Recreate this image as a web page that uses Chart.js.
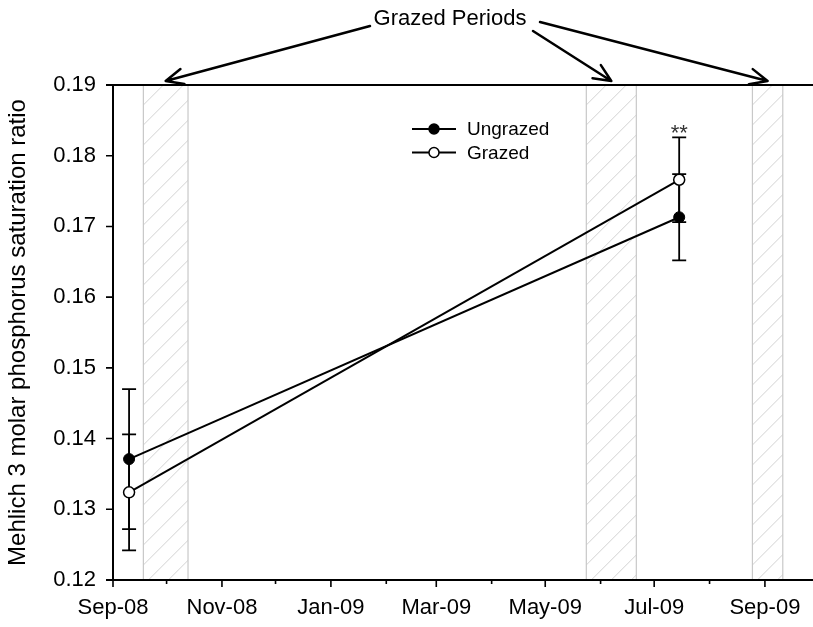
<!DOCTYPE html>
<html>
<head>
<meta charset="utf-8">
<script src="https://cdn.jsdelivr.net/npm/chart.js@4.4.0/dist/chart.umd.min.js"></script>
<style>
  html, body { margin: 0; padding: 0; background: #fff; }
</style>
</head>
<body>
<canvas id="chart" width="813" height="627"></canvas>
<script>
const FONT = '"Liberation Sans", Arial, sans-serif';

// sampling dates and values
const startDate = '2008-09-01';
const endDate = '2009-09-24';
const sampleDates = ['2008-09-10', '2009-07-15'];
const ungrazed = [0.1371, 0.1713];
const ungrazedErr = [0.0099, 0.0061];
const grazed = [0.1324, 0.1766];
const grazedErr = [0.0082, 0.0060];
const significance = ['', '**'];

// grazing periods (hatched bands)
const grazedStart = ['2008-09-18', '2009-05-24', '2009-08-25'];
const grazedEnd = ['2008-10-13', '2009-06-21', '2009-09-11'];

// axis ticks
const majorTickDates = ['2008-09-01', '2008-11-01', '2009-01-01', '2009-03-01', '2009-05-01', '2009-07-01', '2009-09-01'];
const majorTickLabels = ['Sep-08', 'Nov-08', 'Jan-09', 'Mar-09', 'May-09', 'Jul-09', 'Sep-09'];
const minorTickDates = ['2008-10-01', '2008-12-01', '2009-02-01', '2009-04-01', '2009-06-01', '2009-08-01'];
const yTicks = [0.12, 0.13, 0.14, 0.15, 0.16, 0.17, 0.18, 0.19];

const day = d => (Date.parse(d) - Date.parse(startDate)) / 864e5;
const toPoints = vals => vals.map((v, i) => ({ x: day(sampleDates[i]), y: v }));

const extras = {
  id: 'extras',
  beforeDatasetsDraw(chart) {
    const { ctx, chartArea: a, scales: { x, y } } = chart;
    // hatched grazing bands
    grazedStart.forEach((s, i) => {
      const x0 = x.getPixelForValue(day(s));
      const x1 = x.getPixelForValue(day(grazedEnd[i]));
      ctx.save();
      ctx.beginPath();
      ctx.rect(x0, a.top, x1 - x0, a.bottom - a.top);
      ctx.clip();
      ctx.strokeStyle = '#d2d2d2';
      ctx.lineWidth = 1;
      ctx.beginPath();
      for (let k = a.top; k < a.bottom + (x1 - x0) + 20; k += 20) {
        ctx.moveTo(x0, k);
        ctx.lineTo(x0 + 600, k - 600);
      }
      ctx.stroke();
      ctx.restore();
      ctx.save();
      ctx.strokeStyle = '#c8c8c8';
      ctx.lineWidth = 1.2;
      ctx.strokeRect(x0, a.top, x1 - x0, a.bottom - a.top);
      ctx.restore();
    });
    // error bars
    ctx.save();
    ctx.strokeStyle = '#000';
    ctx.lineWidth = 1.8;
    [[ungrazed, ungrazedErr], [grazed, grazedErr]].forEach(([vals, errs]) => {
      vals.forEach((v, i) => {
        const px = x.getPixelForValue(day(sampleDates[i]));
        const top = y.getPixelForValue(v + errs[i]);
        const bot = y.getPixelForValue(v - errs[i]);
        ctx.beginPath();
        ctx.moveTo(px, top); ctx.lineTo(px, bot);
        ctx.moveTo(px - 7, top); ctx.lineTo(px + 7, top);
        ctx.moveTo(px - 7, bot); ctx.lineTo(px + 7, bot);
        ctx.stroke();
      });
    });
    ctx.restore();
  },
  afterDraw(chart) {
    const { ctx, chartArea: a, scales: { x, y } } = chart;
    ctx.save();
    ctx.strokeStyle = '#000';
    ctx.lineWidth = 2;
    // axes and top frame line
    ctx.beginPath();
    ctx.moveTo(a.left, a.top); ctx.lineTo(a.left, a.bottom);
    ctx.moveTo(a.left - 7, a.bottom); ctx.lineTo(chart.width, a.bottom);
    ctx.moveTo(a.left - 7, a.top); ctx.lineTo(chart.width, a.top);
    ctx.stroke();
    ctx.lineWidth = 1.6;
    ctx.beginPath();
    yTicks.forEach(v => {
      const py = y.getPixelForValue(v);
      ctx.moveTo(a.left - 7, py); ctx.lineTo(a.left, py);
    });
    majorTickDates.forEach(d => {
      const px = x.getPixelForValue(day(d));
      ctx.moveTo(px, a.bottom); ctx.lineTo(px, a.bottom + 7);
    });
    minorTickDates.forEach(d => {
      const px = x.getPixelForValue(day(d));
      ctx.moveTo(px, a.bottom); ctx.lineTo(px, a.bottom + 4);
    });
    ctx.stroke();

    // significance marks
    ctx.fillStyle = '#333';
    ctx.font = '22px ' + FONT;
    ctx.textAlign = 'center';
    ctx.textBaseline = 'alphabetic';
    significance.forEach((s, i) => {
      if (!s) return;
      const px = x.getPixelForValue(day(sampleDates[i]));
      const top = Math.min(y.getPixelForValue(ungrazed[i] + ungrazedErr[i]), y.getPixelForValue(grazed[i] + grazedErr[i]));
      ctx.fillText(s, px, top + 3);
    });

    // legend
    const rows = chart.data.datasets;
    ctx.font = '19px ' + FONT;
    ctx.textAlign = 'left';
    ctx.textBaseline = 'middle';
    rows.forEach((ds, i) => {
      const ry = 129 + i * 23.5;
      ctx.strokeStyle = '#000';
      ctx.lineWidth = 2;
      ctx.beginPath();
      ctx.moveTo(412, ry); ctx.lineTo(456, ry);
      ctx.stroke();
      ctx.beginPath();
      ctx.arc(434, ry, 5, 0, Math.PI * 2);
      ctx.fillStyle = ds.pointBackgroundColor;
      ctx.fill();
      ctx.lineWidth = 1.5;
      ctx.stroke();
      ctx.fillStyle = '#000';
      ctx.fillText(ds.label, 467, ry + 1);
    });

    // "Grazed Periods" annotation with arrows
    ctx.font = '22px ' + FONT;
    ctx.textAlign = 'center';
    ctx.fillText('Grazed Periods', 450, 19);
    const starts = [[370, 26], [533, 31], [540, 22]];
    ctx.lineWidth = 2.5;
    ctx.lineCap = 'round';
    grazedStart.forEach((s, i) => {
      const tx = (x.getPixelForValue(day(s)) + x.getPixelForValue(day(grazedEnd[i]))) / 2;
      const ty = a.top - 4;
      const [sx, sy] = starts[i];
      const ang = Math.atan2(ty - sy, tx - sx);
      ctx.beginPath();
      ctx.moveTo(sx, sy); ctx.lineTo(tx, ty);
      [ang + Math.PI - 0.42, ang + Math.PI + 0.42].forEach(t => {
        ctx.moveTo(tx, ty);
        ctx.lineTo(tx + 19 * Math.cos(t), ty + 19 * Math.sin(t));
      });
      ctx.stroke();
    });
    ctx.restore();
  }
};

new Chart(document.getElementById('chart'), {
  type: 'line',
  data: {
    datasets: [
      {
        label: 'Ungrazed',
        data: toPoints(ungrazed),
        borderColor: '#000',
        borderWidth: 2,
        pointRadius: 5.5,
        pointBackgroundColor: '#000',
        pointBorderColor: '#000',
        pointBorderWidth: 1,
        tension: 0
      },
      {
        label: 'Grazed',
        data: toPoints(grazed),
        borderColor: '#000',
        borderWidth: 2,
        pointRadius: 5.5,
        pointBackgroundColor: '#fff',
        pointBorderColor: '#000',
        pointBorderWidth: 1.5,
        tension: 0
      }
    ]
  },
  options: {
    responsive: false,
    animation: false,
    devicePixelRatio: 1,
    layout: { padding: { top: 85, right: 0, left: 0, bottom: 0 } },
    plugins: { legend: { display: false }, tooltip: { enabled: false } },
    events: [],
    scales: {
      x: {
        type: 'linear',
        min: 0,
        max: day(endDate),
        grid: { display: true, drawOnChartArea: false, drawTicks: true, tickLength: 7, tickColor: 'transparent' },
        border: { display: false },
        afterBuildTicks: s => { s.ticks = majorTickDates.map(d => ({ value: day(d) })); },
        afterFit: s => { s.height = 47; },
        ticks: {
          autoSkip: false,
          maxRotation: 0,
          padding: 8,
          color: '#000',
          font: { family: FONT, size: 22 },
          callback: (v, i) => majorTickLabels[i]
        }
      },
      y: {
        min: 0.12,
        max: 0.19,
        grid: { display: true, drawOnChartArea: false, drawTicks: true, tickLength: 7, tickColor: 'transparent' },
        border: { display: false },
        afterBuildTicks: s => { s.ticks = yTicks.map(v => ({ value: v })); },
        afterFit: s => { s.width = 113; },
        ticks: {
          padding: 10,
          color: '#000',
          font: { family: FONT, size: 22 },
          callback: v => v.toFixed(2)
        },
        title: {
          display: true,
          text: 'Mehlich 3 molar phosphorus saturation ratio',
          color: '#000',
          font: { family: FONT, size: 24 },
          padding: { top: 4, bottom: 0 }
        }
      }
    }
  },
  plugins: [extras]
});
</script>
</body>
</html>
